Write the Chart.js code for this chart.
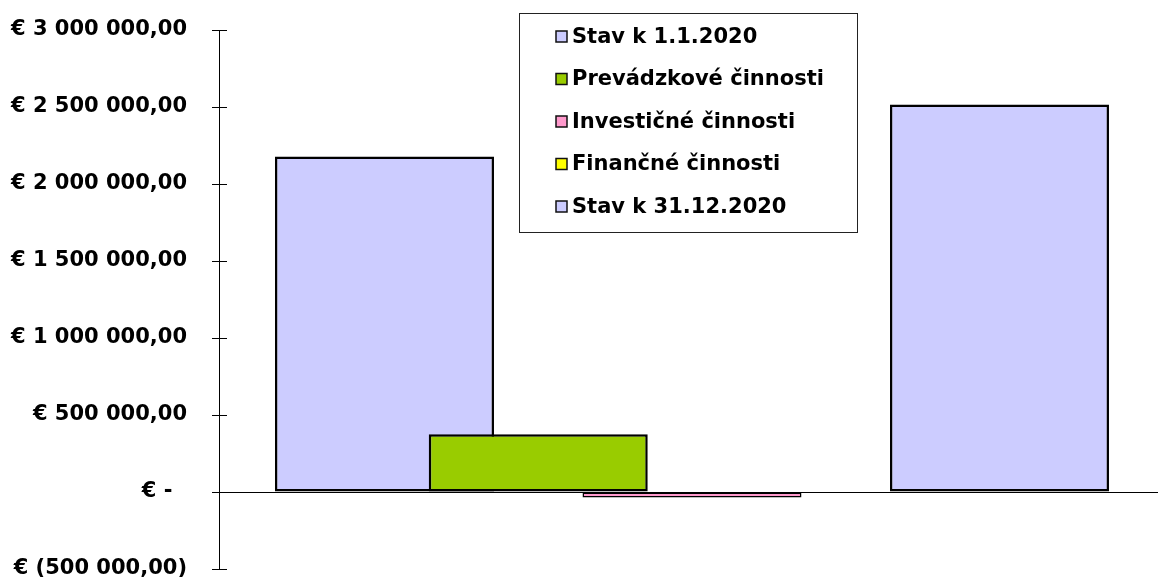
<!DOCTYPE html>
<html>
<head>
<meta charset="utf-8">
<script src="https://cdn.jsdelivr.net/npm/chart.js@4/dist/chart.umd.min.js"></script>
<style>
  html, body { margin: 0; padding: 0; background: #fff; }
  #wrap { width: 1158px; height: 583px; position: relative; }
</style>
</head>
<body>
<div id="wrap"><canvas id="c" width="1158" height="583"></canvas></div>
<script>
// ---- data ----
const seriesNames = ['Stav k 1.1.2020', 'Prevádzkové činnosti', 'Investičné činnosti', 'Finančné činnosti', 'Stav k 31.12.2020'];
const seriesValues = [2178000, 375000, -35000, -5000, 2516000];
const seriesColors = ['#CCCCFF', '#99CC00', '#FF99CC', '#FFFF00', '#CCCCFF'];
const seriesBorderWidths = [2.5, 2.5, 1.5, 2, 2.5];
const tickValues = [-500000, 0, 500000, 1000000, 1500000, 2000000, 2500000, 3000000];
const tickLabels = ['€ (500 000,00)', '€ -  ', '€ 500 000,00', '€ 1 000 000,00', '€ 1 500 000,00', '€ 2 000 000,00', '€ 2 500 000,00', '€ 3 000 000,00'];

const FONT = '"DejaVu Sans", sans-serif';

const datasets = seriesNames.map((name, i) => ({
  label: name,
  data: [{ x: i, y: seriesValues[i] }],
  backgroundColor: seriesColors[i],
  borderColor: '#000',
  borderWidth: seriesBorderWidths[i],
  borderSkipped: false,
  order: seriesNames.length - 1 - i
}));

const innerTicks = {
  id: 'innerTicks',
  afterDraw(chart) {
    const ctx = chart.ctx;
    const y = chart.scales.y;
    const x0 = chart.chartArea.left;
    ctx.save();
    ctx.strokeStyle = '#000';
    ctx.lineWidth = 1;
    y.ticks.forEach(t => {
      const py = Math.round(y.getPixelForValue(t.value)) + 0.5;
      ctx.beginPath();
      ctx.moveTo(x0, py);
      ctx.lineTo(x0 + 8, py);
      ctx.stroke();
    });
    ctx.restore();
  }
};

const boxLegend = {
  id: 'boxLegend',
  afterDraw(chart) {
    const ctx = chart.ctx;
    ctx.save();
    ctx.fillStyle = '#fff';
    ctx.fillRect(519, 13, 338, 219);
    ctx.strokeStyle = '#222';
    ctx.lineWidth = 1;
    ctx.strokeRect(519.5, 13.5, 338, 219);
    ctx.font = 'bold 21px ' + FONT;
    ctx.textBaseline = 'middle';
    ctx.textAlign = 'left';
    chart.data.datasets.forEach((ds, i) => {
      const cy = 36.5 + i * 42.5;
      ctx.fillStyle = ds.backgroundColor;
      ctx.fillRect(556, cy - 5.5, 11, 11);
      ctx.lineWidth = 1.5;
      ctx.strokeStyle = '#111';
      ctx.strokeRect(556, cy - 5.5, 11, 11);
      ctx.fillStyle = '#000';
      ctx.fillText(ds.label, 572, cy + 1);
    });
    ctx.restore();
  }
};

new Chart(document.getElementById('c'), {
  type: 'bar',
  data: { datasets },
  options: {
    responsive: false,
    animation: false,
    events: [],
    layout: { padding: { top: 30, bottom: 14, left: 0, right: 0 } },
    plugins: { legend: { display: false }, tooltip: { enabled: false } },
    datasets: { bar: { grouped: false, categoryPercentage: 1, barPercentage: 1.4244 } },
    scales: {
      x: {
        type: 'linear',
        display: false,
        offset: false,
        min: -1.0764,
        max: 5.031
      },
      y: {
        min: -500000,
        max: 3000000,
        afterFit(s) { s.width = 219; s.paddingTop = 0; s.paddingBottom = 0; },
        afterBuildTicks(s) { s.ticks = tickValues.map(v => ({ value: v })); },
        ticks: {
          padding: 25,
          color: '#000',
          font: { family: FONT, size: 21, weight: 'bold' },
          callback: (v) => tickLabels[tickValues.indexOf(v)]
        },
        grid: {
          drawOnChartArea: true,
          tickLength: 7,
          tickColor: '#000',
          color: (c) => (c.tick && c.tick.value === 0) ? '#000' : 'rgba(0,0,0,0)',
          lineWidth: 1
        },
        border: { display: true, color: '#000', width: 1 }
      }
    }
  },
  plugins: [innerTicks, boxLegend]
});
</script>
</body>
</html>
